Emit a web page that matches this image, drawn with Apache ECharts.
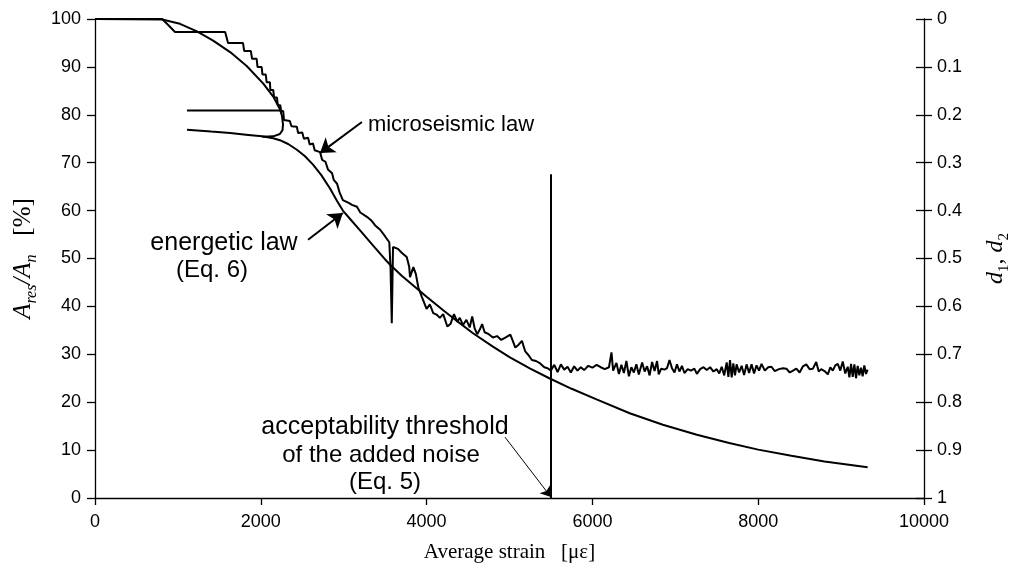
<!DOCTYPE html>
<html>
<head>
<meta charset="utf-8">
<script src="https://cdn.jsdelivr.net/npm/echarts@6/dist/echarts.min.js"></script>
<style>
  html, body { margin: 0; padding: 0; background: #fff; }
  #chart { width: 1011px; height: 575px; }
</style>
</head>
<body>
<div id="chart"></div>
<script>
// microseismic law: staircase then noisy plateau [strain, Ares/An %]
var microseismic = [
  [0, 100], [810, 100], [880, 98.8], [965, 97.3], [1570, 97.3], [1605, 95], [1785, 95], [1800, 93.3], [1880, 93.3],
  [1895, 91.7], [1950, 91.7], [1960, 90], [2010, 90], [2020, 88.4], [2060, 88.4], [2070, 86.8], [2110, 86.8],
  [2115, 85.2], [2150, 85.2], [2160, 83.6], [2195, 83.6], [2205, 82], [2235, 82], [2245, 80.8], [2270, 80.8],
  [2280, 78.9], [2350, 78.7], [2370, 77.6], [2435, 77.5], [2450, 76.2], [2500, 76.3], [2520, 75], [2570, 75.2],
  [2590, 73.8], [2630, 74], [2650, 72.6], [2715, 72.2], [2740, 70.6], [2780, 70.2], [2810, 68.6], [2860, 67.8],
  [2880, 66.4], [2920, 65.6], [2950, 63.8], [2990, 62.2], [3060, 61.6], [3100, 61.2], [3160, 60.8], [3200, 59.6],
  [3280, 58.7], [3330, 58], [3380, 56.9], [3440, 56], [3500, 54.6], [3550, 53.4], [3565, 48], [3580, 36.5],
  [3595, 52.4], [3655, 52], [3700, 51.2], [3760, 50.3], [3790, 48.3], [3800, 46.1], [3820, 46.5], [3840, 48.2],
  [3870, 46.8], [3900, 44], [3940, 42.1], [4000, 39.5], [4040, 40.4], [4080, 38.6], [4120, 38.3], [4160, 37.6],
  [4200, 38.4], [4250, 35.8], [4290, 36.4], [4330, 38.4], [4370, 36.8], [4400, 37.6], [4440, 36.1], [4480, 37.2],
  [4520, 35.6], [4550, 37.9], [4580, 35.4], [4610, 34.2], [4640, 35.1], [4670, 36.3], [4700, 34.6], [4750, 34.2],
  [4800, 33.5], [4850, 33.8], [4900, 33], [4950, 33.5], [5010, 34.1], [5040, 32.8], [5070, 31.4], [5110, 32],
  [5150, 32.8], [5190, 30.6], [5230, 29.8], [5270, 28.8], [5320, 28.6], [5370, 28.1], [5420, 27.3], [5460, 27.1],
  [5500, 26.6], [5540, 27.8], [5580, 26.3], [5620, 27.9], [5660, 26.8], [5700, 27.4], [5740, 26.2], [5780, 27.5],
  [5820, 26.6], [5860, 27.3], [5900, 26.7], [5950, 27.6], [6000, 27.2], [6050, 27.8], [6100, 27.3], [6150, 26.9],
  [6200, 27.3], [6230, 30.4], [6250, 26.6], [6290, 28.2], [6320, 25.9], [6350, 27.8], [6380, 26.1], [6410, 28.6],
  [6440, 25.4], [6470, 27.3], [6500, 26.2], [6530, 27.9], [6560, 25.8], [6600, 28.3], [6630, 26.4], [6660, 27.5],
  [6690, 25.6], [6720, 28.4], [6750, 26.5], [6780, 28.6], [6800, 25.8], [6830, 27], [6870, 26.8], [6900, 27.1],
  [6930, 28.8], [6960, 27.1], [6990, 26.2], [7020, 27.9], [7050, 26.4], [7080, 27.6], [7110, 26.1], [7150, 26.9],
  [7190, 26.6], [7230, 27], [7260, 25.9], [7300, 26.9], [7340, 27.3], [7380, 26.7], [7420, 27.3], [7460, 26.4],
  [7500, 26.9], [7530, 26], [7560, 27.4], [7590, 25.6], [7620, 28.3], [7640, 25.3], [7660, 28.8], [7680, 25.2],
  [7700, 28.1], [7720, 25.6], [7740, 27.9], [7770, 26.2], [7800, 27.6], [7830, 25.7], [7860, 27.9], [7890, 26.1],
  [7920, 27.9], [7950, 26], [7980, 27.7], [8010, 26.6], [8040, 28], [8080, 26.6], [8120, 27.3], [8160, 27.4],
  [8200, 26.5], [8250, 26.9], [8300, 27.1], [8340, 27], [8380, 26.2], [8420, 26.6], [8460, 27], [8500, 26.2],
  [8540, 27.5], [8580, 27.9], [8620, 26.9], [8660, 27], [8700, 28.4], [8730, 26.4], [8760, 26.9], [8800, 26.5],
  [8840, 25.8], [8870, 27.3], [8900, 26.6], [8930, 27.7], [8960, 28], [8990, 26.6], [9020, 28.5], [9050, 26],
  [9080, 27.4], [9100, 25.2], [9120, 28], [9140, 25.3], [9160, 27.9], [9180, 25], [9200, 27.6], [9220, 25.6],
  [9240, 27.2], [9260, 25.4], [9280, 27.7], [9300, 25.9], [9320, 26.8]
];

// energetic law (Eq. 6)
var energetic = [
  [1110, 76.9], [1400, 76.5], [1630, 76.2], [1850, 75.8], [2015, 75.5], [2150, 75.1], [2230, 74.7], [2330, 73.9],
  [2435, 72.7], [2530, 71.4], [2630, 69.6], [2730, 67.4], [2835, 64.6], [2920, 62], [2990, 60], [3080, 58.2],
  [3200, 55.8], [3350, 52.8], [3500, 49.8], [3560, 48.7], [3700, 46.4], [3850, 44.2], [4000, 42], [4200, 39.2],
  [4400, 36.5], [4560, 34.4], [4800, 31.6], [5000, 29.4], [5250, 27], [5480, 25], [5750, 22.8], [6050, 20.6],
  [6450, 17.7], [6850, 15.3], [7260, 13.2], [7650, 11.5], [8000, 10.1], [8400, 8.8], [8800, 7.6], [9320, 6.4]
];

// upper smooth curve with the loop near 2250
var upperCurve = [
  [0, 100], [810, 99.9], [1025, 99], [1230, 97.4], [1425, 95.5], [1630, 93.1], [1830, 90.2], [2030, 86.5],
  [2150, 83.8], [2230, 81.2], [2255, 79.8], [2268, 78], [2262, 76.8], [2230, 76], [2150, 75.5], [2015, 75.4]
];

// horizontal segment
var levelLine = [[1110, 80.9], [2255, 80.9]];

var thresholdStrain = 5500;

var rightTicks = ['0', '0.1', '0.2', '0.3', '0.4', '0.5', '0.6', '0.7', '0.8', '0.9', '1'];

var myChart = echarts.init(document.getElementById('chart'), null, { renderer: 'canvas' });

var axisBlack = { color: '#000', width: 1.3 };

function lineSeries(data, extra) {
  var s = {
    type: 'line',
    data: data,
    showSymbol: false,
    symbol: 'none',
    clip: false,
    silent: true,
    lineStyle: { color: '#000', width: 2 },
    emphasis: { disabled: true }
  };
  for (var k in extra) s[k] = extra[k];
  return s;
}

function note(text, x, y, size) {
  return {
    type: 'text', x: x, y: y, silent: true,
    style: { text: text, font: size + 'px "Liberation Sans"', fill: '#000', align: 'center', verticalAlign: 'middle' }
  };
}

var option = {
  animation: false,
  backgroundColor: '#fff',
  grid: { left: 95, right: 87, top: 19, bottom: 77, containLabel: false, outerBoundsMode: 'none' },
  xAxis: {
    type: 'value',
    min: 0, max: 10000, interval: 2000,
    axisLine: { show: true, onZero: false, lineStyle: axisBlack },
    axisTick: { show: true, length: 7, lineStyle: axisBlack },
    axisLabel: {
      margin: 15, fontFamily: 'Liberation Sans', fontSize: 18, color: '#000',
      formatter: function (v) { return String(v); }
    },
    splitLine: { show: false },
    name: 'Average strain   [\u03bc\u03b5]',
    nameLocation: 'middle',
    nameGap: 44,
    nameTextStyle: { fontFamily: 'Liberation Serif', fontSize: 21, color: '#000' }
  },
  yAxis: [
    {
      type: 'value',
      position: 'left',
      min: 0, max: 100, interval: 10,
      axisLine: { show: true, lineStyle: axisBlack },
      axisTick: { show: true, length: 8, lineStyle: axisBlack },
      axisLabel: { margin: 14, fontFamily: 'Liberation Sans', fontSize: 18, color: '#000' },
      splitLine: { show: false },
      name: '{i|A}{s|res}{i|/A}{s|n}{t|   [%]}',
      nameLocation: 'middle',
      nameRotate: 90,
      nameGap: 55,
      nameTextStyle: {
        rich: {
          i: { fontFamily: 'Liberation Serif', fontStyle: 'italic', fontSize: 25, color: '#000' },
          s: { fontFamily: 'Liberation Serif', fontStyle: 'italic', fontSize: 16, color: '#000', verticalAlign: 'bottom', padding: [0, 0, -4, 0] },
          t: { fontFamily: 'Liberation Serif', fontSize: 25, color: '#000' }
        }
      }
    },
    {
      type: 'value',
      position: 'right',
      min: 0, max: 1, interval: 0.1,
      inverse: true,
      axisLine: { show: true, lineStyle: axisBlack },
      axisTick: { show: true, length: 8, lineStyle: axisBlack },
      axisLabel: {
        margin: 13, fontFamily: 'Liberation Sans', fontSize: 18, color: '#000',
        formatter: function (v) { return rightTicks[Math.round(v * 10)]; }
      },
      splitLine: { show: false },
      name: '{i|d}{s|1}{t|, }{i|d}{s|2}',
      nameLocation: 'middle',
      nameRotate: 90,
      nameGap: 60,
      nameTextStyle: {
        rich: {
          i: { fontFamily: 'Liberation Serif', fontStyle: 'italic', fontSize: 24, color: '#000' },
          s: { fontFamily: 'Liberation Serif', fontSize: 15, color: '#000', verticalAlign: 'bottom', padding: [0, 0, -4, 0] },
          t: { fontFamily: 'Liberation Serif', fontSize: 24, color: '#000' }
        }
      }
    },
    {
      // inner half of the crossing ticks on the right axis
      type: 'value',
      position: 'right',
      min: 0, max: 1, interval: 0.1,
      inverse: true,
      axisLine: { show: false },
      axisTick: { show: true, inside: true, length: 8, lineStyle: axisBlack },
      axisLabel: { show: false },
      splitLine: { show: false }
    }
  ],
  graphic: [
    note('microseismic law', 451, 125, 22),
    note('energetic law', 224, 243, 25),
    note('(Eq. 6)', 212, 270, 24),
    note('acceptability threshold', 385, 427, 25),
    note('of the added noise', 381, 455, 24),
    note('(Eq. 5)', 385, 482, 24)
  ],
  series: [
    lineSeries(upperCurve),
    lineSeries(levelLine),
    lineSeries(microseismic),
    lineSeries(energetic, {
      markLine: {
        silent: true,
        animation: false,
        label: { show: false },
        emphasis: { disabled: true },
        lineStyle: { color: '#000', type: 'solid', width: 2 },
        data: [
          [{ coord: [thresholdStrain, 0], symbol: 'none' }, { coord: [thresholdStrain, 67.6], symbol: 'none' }],
          [{ coord: [3220, 78.5], symbol: 'none' }, { coord: [2714, 72.0], symbol: 'arrow', symbolSize: 14 }],
          [{ coord: [2570, 53.9], symbol: 'none' }, { coord: [2990, 59.5], symbol: 'arrow', symbolSize: 14 }],
          [{ coord: [4946, 12.7], symbol: 'none', lineStyle: { width: 1 } },
           { coord: [thresholdStrain, 0.2], symbol: 'arrow', symbolSize: 10, lineStyle: { width: 1 } }]
        ]
      }
    })
  ]
};

myChart.setOption(option);
</script>
</body>
</html>
